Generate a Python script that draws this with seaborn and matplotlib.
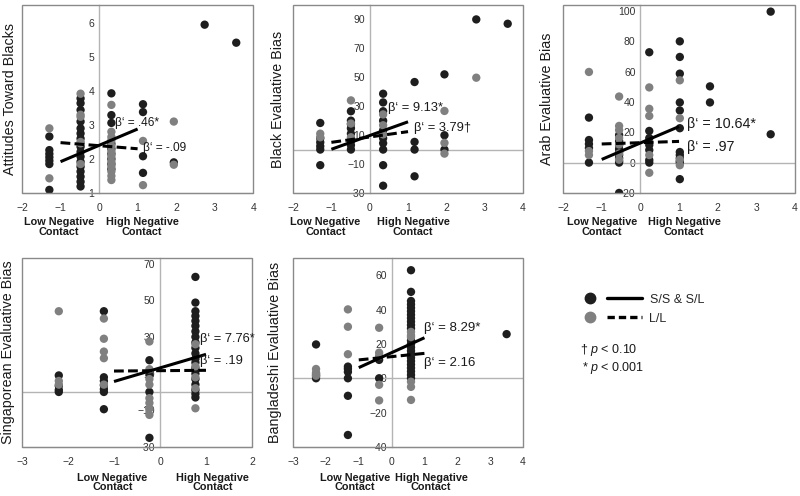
import matplotlib
matplotlib.use("Agg")
import matplotlib.pyplot as plt
import pandas as pd
import seaborn as sns
from matplotlib.lines import Line2D
from matplotlib.legend_handler import HandlerTuple

# ---- data (x = contact column, y values per column) ----
groups = ["S/S & S/L", "L/L"]

att_cols = [-1.29, -0.48, 0.32, 1.14, 1.94, 2.74, 3.56]
att_ss = [[2.66, 2.26, 2.15, 2.05, 1.95, 1.85, 1.09],
          [3.78, 3.64, 3.44, 3.1, 2.9, 2.75, 2.6, 2.36, 2.21, 2.07, 1.92, 1.77, 1.63, 1.48, 1.33, 1.19],
          [3.93, 3.29, 3.06, 2.45, 2.3, 2.15, 2.0, 1.85, 1.7],
          [3.61, 3.38, 2.08, 1.59],
          [1.9],
          [5.95],
          [5.42]]
att_ll = [[2.9, 1.43],
          [3.92, 3.3, 3.24, 2.5, 2.46, 1.85],
          [3.59, 2.8, 2.65, 2.55, 2.38, 2.22, 2.08, 1.92, 1.78, 1.63, 1.5, 1.38],
          [2.53, 1.23],
          [3.1, 1.83],
          [],
          []]
att_solid = [1.92, 2.88]
att_dashed = [2.48, 2.3]

blk_cols = [-1.29, -0.49, 0.35, 1.17, 1.95, 2.78, 3.6]
blk_ss = [[18.4, 7.8, 5, 2.3, 0, -10.8],
          [26.5, 20, 17.6, 14.7, 11, 5.7, 3, 0],
          [38.6, 32.6, 26.5, 20, 13.3, 7.8, 4.4, 0, -10.8, -25],
          [46.7, 5.3, 0, -18.5],
          [52, 9.9, 0],
          [90],
          [87]]
blk_ll = [[11, 8.5],
          [34, 18, 8.5],
          [24.3, 16.8, 10.5],
          [],
          [26.7, 4.6, -2.8],
          [49.7],
          []]
blk_solid = [0.2, 19.2]
blk_dashed = [5.0, 12.4]

arab_cols = [-1.33, -0.55, 0.23, 1.02, 1.8, 3.37]
arab_ss = [[29.7, 14.9, 12.3, 9.6, 0],
           [18.2, 14.3, 11.6, 9, 7, 5, 3, 1, 0, -20],
           [72.8, 20.9, 16.2, 11.6, 8.3, 1.7, 0],
           [80, 69.7, 58.7, 39.7, 34.4, 22.7, 7, 5, 3, 1, 0, -10.9],
           [50.3, 39.7],
           [99.6, 18.7]]
arab_ll = [[59.8, 7.6, 5],
           [43.6, 24.2, 21.5, 16.2, 12, 6, 2],
           [49.6, 35.5, 30.8, 5, -6.7],
           [54.3, 29.3, 2, -1.7],
           [],
           []]
arab_solid = [2.1, 23.8]
arab_dashed = [12.3, 14.0]

sing_cols = [-2.2, -1.22, -0.23, 0.77]
sing_ss = [[9, 3.3, 1.1, 0],
           [44, 8, 6, 3.6, 1.5, 0, -9.4],
           [17.3, 9.3, 0, -25],
           [62.7, 48.7, 44, 41.4, 38.7, 36, 33, 30, 27, 24, 21, 18, 16, 13, 10, 7, 4, 1, -1, -3]]
sing_ll = [[44, 6, 4],
           [40, 29, 22, 18.4, 4],
           [27.5, 12.4, 7, 4, -3.4, -6, -9, -12.5],
           [26, 14, 8, 2, -8.9]]
sing_solid = [5.7, 20.5]
sing_dashed = [11.4, 11.8]

bang_cols = [-2.3, -1.33, -0.38, 0.59, 3.5]
bang_ss = [[19.7, 2.5, 1.4, 0],
           [6.8, 5.5, 3.7, 0, -10.2, -33],
           [10.7, 0],
           [62.9, 50.3, 45, 43, 41, 39, 37, 35, 33, 31, 29, 22, 20, 18, 16, 14, 12, 10, 8, 6, 4, 2, 0],
           [25.7]]
bang_ll = [[5.4, 3.3, 1.5],
           [40.1, 30, 14],
           [29.4, 14.9, 13, -3.8, -12.9],
           [27, 25, 24, -2, -5, -12.6],
           []]
bang_solid = [6.2, 23.6]
bang_dashed = [10.7, 14.5]

line_x = [-1, 1]

BLACK = "#1e1e1e"
GRAY = "#808080"
BOX = "#8a8a8a"
ZERO = "#b4b4b4"


def to_frame(cols, ss, ll):
    rows = []
    for x, ys in zip(cols, ss):
        for y in ys:
            rows.append((x, y, groups[0]))
    for x, ys in zip(cols, ll):
        for y in ys:
            rows.append((x, y, groups[1]))
    return pd.DataFrame(rows, columns=["contact", "bias", "group"])


sns.set_style("white")
plt.rcParams["font.family"] = ["Liberation Sans", "DejaVu Sans"]
plt.rcParams["mathtext.fontset"] = "custom"
plt.rcParams["mathtext.it"] = "Liberation Sans:italic"
plt.rcParams["mathtext.rm"] = "Liberation Sans"

fig = plt.figure(figsize=(8, 4.96), dpi=100)

panels = [
    dict(ylabel="Attitudes Toward Blacks", cols=att_cols, ss=att_ss, ll=att_ll,
         solid=att_solid, dashed=att_dashed, rect=[0.0275, 0.611, 0.289, 0.379],
         xlim=(-2, 4), ylim=(1, 6.53), yticks=[1, 2, 3, 4, 5, 6], zero=None,
         lab_x=-0.02, low=-1.04, high=1.12, lab_y=-0.13,
         betas=[("β‘ = .46*", 0.42, 3.06), ("β‘ = -.09", 1.14, 2.32)], bsize=8.6),
    dict(ylabel="Black Evaluative Bias", cols=blk_cols, ss=blk_ss, ll=blk_ll,
         solid=blk_solid, dashed=blk_dashed, rect=[0.3663, 0.611, 0.2875, 0.379],
         xlim=(-2, 4), ylim=(-30, 100), yticks=[-30, -10, 10, 30, 50, 70, 90], zero=0,
         lab_x=-0.035, low=-1.15, high=1.13, lab_y=-0.13,
         betas=[("β‘ = 9.13*", 0.48, 28.7), ("β‘ = 3.79†", 1.16, 14.9)], bsize=9.3),
    dict(ylabel="Arab Evaluative Bias", cols=arab_cols, ss=arab_ss, ll=arab_ll,
         solid=arab_solid, dashed=arab_dashed, rect=[0.7038, 0.611, 0.29, 0.379],
         xlim=(-2, 4), ylim=(-20, 104), yticks=[-20, 0, 20, 40, 60, 80, 100], zero=0,
         lab_x=-0.039, low=-0.99, high=1.13, lab_y=-0.13,
         betas=[("β‘ = 10.64*", 1.21, 25.6), ("β‘ = .97", 1.21, 10.3)], bsize=10.3),
    dict(ylabel="Singaporean Evaluative Bias", cols=sing_cols, ss=sing_ss, ll=sing_ll,
         solid=sing_solid, dashed=sing_dashed, rect=[0.0275, 0.0988, 0.2875, 0.381],
         xlim=(-3, 2), ylim=(-30, 73), yticks=[-30, -10, 10, 30, 50, 70], zero=0,
         lab_x=-0.032, low=-1.03, high=1.14, lab_y=-0.135,
         betas=[("β‘ = 7.76*", 0.87, 29.1), ("β‘ = .19", 0.87, 16.9)], bsize=9.3),
    dict(ylabel="Bangladeshi Evaluative Bias", cols=bang_cols, ss=bang_ss, ll=bang_ll,
         solid=bang_solid, dashed=bang_dashed, rect=[0.3663, 0.0988, 0.2875, 0.381],
         xlim=(-3, 4), ylim=(-40, 70), yticks=[-40, -20, 0, 20, 40, 60], zero=0,
         lab_x=-0.048, low=-1.11, high=1.2, lab_y=-0.135,
         betas=[("β‘ = 8.29*", 0.99, 29.3), ("β‘ = 2.16", 0.99, 8.9)], bsize=9.5),
]

for p in panels:
    ax = fig.add_axes(p["rect"])
    df = to_frame(p["cols"], p["ss"], p["ll"])
    sns.scatterplot(data=df, x="contact", y="bias", hue="group", hue_order=groups,
                    palette=[BLACK, GRAY], s=36, edgecolor="none", linewidth=0,
                    legend=False, ax=ax, zorder=3)
    ax.plot(line_x, p["solid"], color="black", lw=2.2, zorder=4, solid_capstyle="butt")
    ax.plot(line_x, p["dashed"], color="black", lw=2.2, dashes=(3.2, 1.4), zorder=4)

    ax.set_xlim(*p["xlim"])
    ax.set_ylim(*p["ylim"])
    ax.set_xticks(range(int(p["xlim"][0]), int(p["xlim"][1]) + 1))
    ax.set_yticks(p["yticks"])
    ax.set_xlabel("")
    ax.set_ylabel(p["ylabel"], fontsize=10.3, color="#1a1a1a")
    ax.yaxis.set_label_coords(p["lab_x"], 0.5)

    # vertical axis crosses at 0, box drawn around the plot area
    ax.spines["left"].set_position(("data", 0))
    ax.spines["left"].set_color(ZERO)
    ax.spines["left"].set_linewidth(1)
    for side in ["top", "right"]:
        ax.spines[side].set_visible(False)
    ax.spines["bottom"].set_color(BOX)
    ax.add_patch(plt.Rectangle((0, 0), 1, 1, transform=ax.transAxes, fill=False,
                               ec=BOX, lw=1, clip_on=False, zorder=5))
    if p["zero"] is not None:
        ax.axhline(p["zero"], color=ZERO, lw=1, zorder=1)

    ax.tick_params(axis="y", length=2, width=0.8, color=ZERO, pad=1.5,
                   labelsize=7.5, labelcolor="#333333")
    ax.tick_params(axis="x", length=2, width=0.8, color=BOX, pad=5,
                   labelsize=7.5, labelcolor="#333333")

    tr = ax.get_xaxis_transform()
    for xpos, txt in [(p["low"], "Low Negative\nContact"), (p["high"], "High Negative\nContact")]:
        ax.text(xpos, p["lab_y"], txt, transform=tr, ha="center", va="top",
                fontsize=7.8, fontweight="bold", linespacing=0.95, color="#1a1a1a")

    for txt, bx, by in p["betas"]:
        ax.text(bx, by, txt, ha="left", va="center", fontsize=p["bsize"],
                color="#1a1a1a", zorder=6)

# legend
dot_ss = Line2D([], [], marker="o", color=BLACK, ls="none", ms=7.5)
dot_ll = Line2D([], [], marker="o", color=GRAY, ls="none", ms=7.5)
ln_ss = Line2D([], [], color="black", lw=2.4)
ln_ll = Line2D([], [], color="black", lw=2.4, dashes=(2.2, 1.2))
fig.legend([(dot_ss, ln_ss), (dot_ll, ln_ll)], groups,
           handler_map={tuple: HandlerTuple(ndivide=None, pad=0)},
           loc="upper left", bbox_to_anchor=(0.715, 0.408), frameon=False,
           fontsize=9, handlelength=5.6, handletextpad=0.6, labelspacing=0.55,
           borderpad=0, borderaxespad=0)

fig.text(0.725, 1 - 350 / 496, "† $p$ < 0.10", fontsize=9, va="center", color="#1a1a1a")
fig.text(0.7275, 1 - 368 / 496, "* $p$ < 0.001", fontsize=9, va="center", color="#1a1a1a")

fig.savefig("out.png", dpi=100)
